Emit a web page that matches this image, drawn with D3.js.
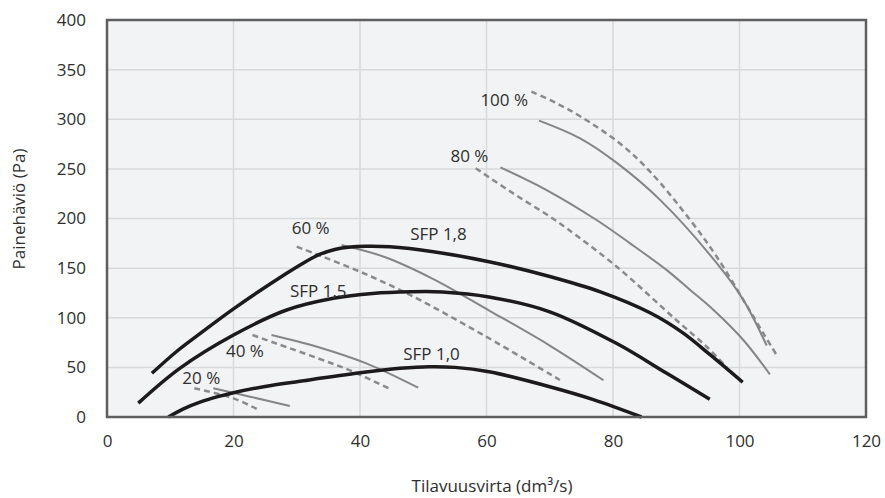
<!DOCTYPE html>
<html>
<head>
<meta charset="utf-8">
<script src="https://cdn.jsdelivr.net/npm/d3@7"></script>
<style>
  body { margin: 0; background: #fff; }
  text { font-family: "Open Sans", Lato, sans-serif; fill: #2e2e2e; }
</style>
</head>
<body>
<div id="container"></div>
<script>
// axis ticks
let xTicks = [0, 20, 40, 60, 80, 100, 120];
let yTicks = [0, 50, 100, 150, 200, 250, 300, 350, 400];

// SFP curves (thick black) [flow, pressure]
let sfp18 = [[7.1,44],[11,66],[14.7,84],[20,109],[28.4,144.8],[31,155],[33.5,163.5],[36,168.8],[38.5,171.3],[41,172],[44.7,171.5],[51.6,166.5],[60.4,156.5],[70,141.5],[78,126],[86,104.5],[91,85],[95.3,63],[100.5,35]];
let sfp15 = [[4.95,14],[11.5,49],[20,82.6],[28.4,107.8],[35.8,119.6],[42,124.5],[48,126.2],[53,126],[60.4,121],[70,106],[80.6,74],[88.5,44],[95.3,18]];
let sfp10 = [[9.7,0],[12,8],[14.7,15],[17.5,20.5],[20,24.5],[25,30.8],[30.5,36],[40,44.5],[46.3,49],[51,50.7],[55,50],[60.4,45.6],[70,30.5],[76.9,17.5],[84.5,0]];

// fan speed curves, solid grey
let solid20 = [[16.8,29],[22.6,20.5],[28.9,11]];
let solid40 = [[26,82.6],[33.2,70.8],[41,54],[49.2,29.5]];
let solid60 = [[37.1,173.3],[44,161],[51.6,139],[60.5,107],[70,72],[78.5,37]];
let solid80 = [[62.2,251.6],[69.5,228.7],[77.4,198.5],[82.7,175],[88.5,148],[92.2,128],[95.9,107.8],[100.6,77.6],[104.8,43]];
let solid100 = [[68.3,298.6],[74.8,280.7],[80.6,256],[87.4,219],[96.4,155],[100.6,118],[104.3,72]];

// fan speed curves, dashed grey
let dash20 = [[13.8,29],[20,18.8],[23.8,7.7]];
let dash40 = [[23,82.6],[26.8,74],[33.4,59],[38.4,47],[44.5,29]];
let dash60 = [[30,171.6],[40,146.4],[47.9,123],[59.5,82.6],[71.6,37.3]];
let dash80 = [[58.3,250.6],[64.2,225.4],[70,202],[72.7,190],[80.6,151.4],[90,97.7],[94.8,70.8],[98,50]];
let dash100 = [[67.1,327.8],[70.8,317],[74.8,303],[81.1,275.6],[85.9,247],[92.2,198.5],[96.4,161.5],[100.6,118],[103.8,84],[106.1,60]];

// curve labels [text, flow, pressure]
let labels = [
  ["100 %", 62.8, 313.4],
  ["80 %", 57.3, 257.2],
  ["60 %", 32.2, 184.4],
  ["40 %", 21.8, 60.8],
  ["20 %", 14.9, 33.2],
  ["SFP 1,8", 52.4, 178.3],
  ["SFP 1,5", 33.4, 121.2],
  ["SFP 1,0", 51.3, 57.4]
];

let w = 885;
let h = 498;
let pLeft = 107, pRight = 866, pTop = 20, pBottom = 417;
let fontSize = "17px";

let viz = d3.select("#container")
  .append("svg")
    .attr("width", w)
    .attr("height", h)
;

let xScale = d3.scaleLinear().domain([0, 120]).range([pLeft, pRight]);
let yScale = d3.scaleLinear().domain([0, 400]).range([pBottom, pTop]);

// plot background
viz.append("rect")
  .attr("x", pLeft).attr("y", pTop)
  .attr("width", pRight - pLeft).attr("height", pBottom - pTop)
  .attr("fill", "#f2f3f5");

// grid
let grid = viz.append("g").attr("class", "grid");
grid.selectAll(".vgrid").data(xTicks.slice(1, -1)).enter()
  .append("line")
  .attr("x1", d => xScale(d)).attr("x2", d => xScale(d))
  .attr("y1", pTop).attr("y2", pBottom)
  .attr("stroke", "#d8d9db").attr("stroke-width", 1.5);
grid.selectAll(".hgrid").data(yTicks.slice(1, -1)).enter()
  .append("line")
  .attr("y1", d => yScale(d)).attr("y2", d => yScale(d))
  .attr("x1", pLeft).attr("x2", pRight)
  .attr("stroke", "#d8d9db").attr("stroke-width", 1.5);

// axes (labels only)
let xAxis = d3.axisBottom(xScale).tickValues(xTicks).tickSize(0).tickPadding(0);
let xAxisGroup = viz.append("g")
  .attr("transform", "translate(0," + pBottom + ")")
  .call(xAxis);
xAxisGroup.select(".domain").remove();
xAxisGroup.selectAll("text")
  .attr("y", 29.7).attr("dy", null)
  .style("font-size", fontSize).style("font-family", "'Open Sans', sans-serif").attr("fill", "#2e2e2e");

let yAxis = d3.axisLeft(yScale).tickValues(yTicks).tickSize(0).tickPadding(21);
let yAxisGroup = viz.append("g")
  .attr("transform", "translate(" + pLeft + ",0)")
  .call(yAxis);
yAxisGroup.select(".domain").remove();
yAxisGroup.selectAll("text")
  .style("font-size", fontSize).style("font-family", "'Open Sans', sans-serif").attr("fill", "#2e2e2e");

// axis titles
viz.append("text")
  .attr("x", 492).attr("y", 492)
  .attr("text-anchor", "middle")
  .style("font-size", fontSize)
  .text("Tilavuusvirta (dm³/s)");
viz.append("text")
  .attr("transform", "translate(25,209) rotate(-90)")
  .attr("text-anchor", "middle")
  .style("font-size", fontSize)
  .text("Painehäviö (Pa)");

let lineMaker = d3.line()
  .x(function(d){ return xScale(d[0]); })
  .y(function(d){ return yScale(d[1]); })
  .curve(d3.curveCatmullRom.alpha(0.5))
;

let graphGroup = viz.append("g").attr("class", "graphGroup");

graphGroup.selectAll(".dashed").data([dash20, dash40, dash60, dash80, dash100]).enter()
  .append("path")
  .attr("class", "dashed")
  .attr("d", lineMaker)
  .attr("fill", "none")
  .attr("stroke", "#8a8a8a")
  .attr("stroke-width", 2.5)
  .attr("stroke-dasharray", "6,4");

graphGroup.selectAll(".solid").data([solid20, solid40, solid60, solid80, solid100]).enter()
  .append("path")
  .attr("class", "solid")
  .attr("d", lineMaker)
  .attr("fill", "none")
  .attr("stroke", "#858585")
  .attr("stroke-width", 2);

graphGroup.selectAll(".sfp").data([sfp18, sfp15, sfp10]).enter()
  .append("path")
  .attr("class", "sfp")
  .attr("d", lineMaker)
  .attr("fill", "none")
  .attr("stroke", "#1d1a1b")
  .attr("stroke-width", 3.5);

// border
viz.append("rect")
  .attr("x", pLeft).attr("y", pTop)
  .attr("width", pRight - pLeft).attr("height", pBottom - pTop)
  .attr("fill", "none")
  .attr("stroke", "#5e5e5e")
  .attr("stroke-width", 2.5);

// curve labels
viz.selectAll(".clabel").data(labels).enter()
  .append("text")
  .attr("class", "clabel")
  .attr("x", d => xScale(d[1]))
  .attr("y", d => yScale(d[2]))
  .attr("text-anchor", "middle")
  .style("font-size", fontSize)
  .text(d => d[0]);
</script>
</body>
</html>
